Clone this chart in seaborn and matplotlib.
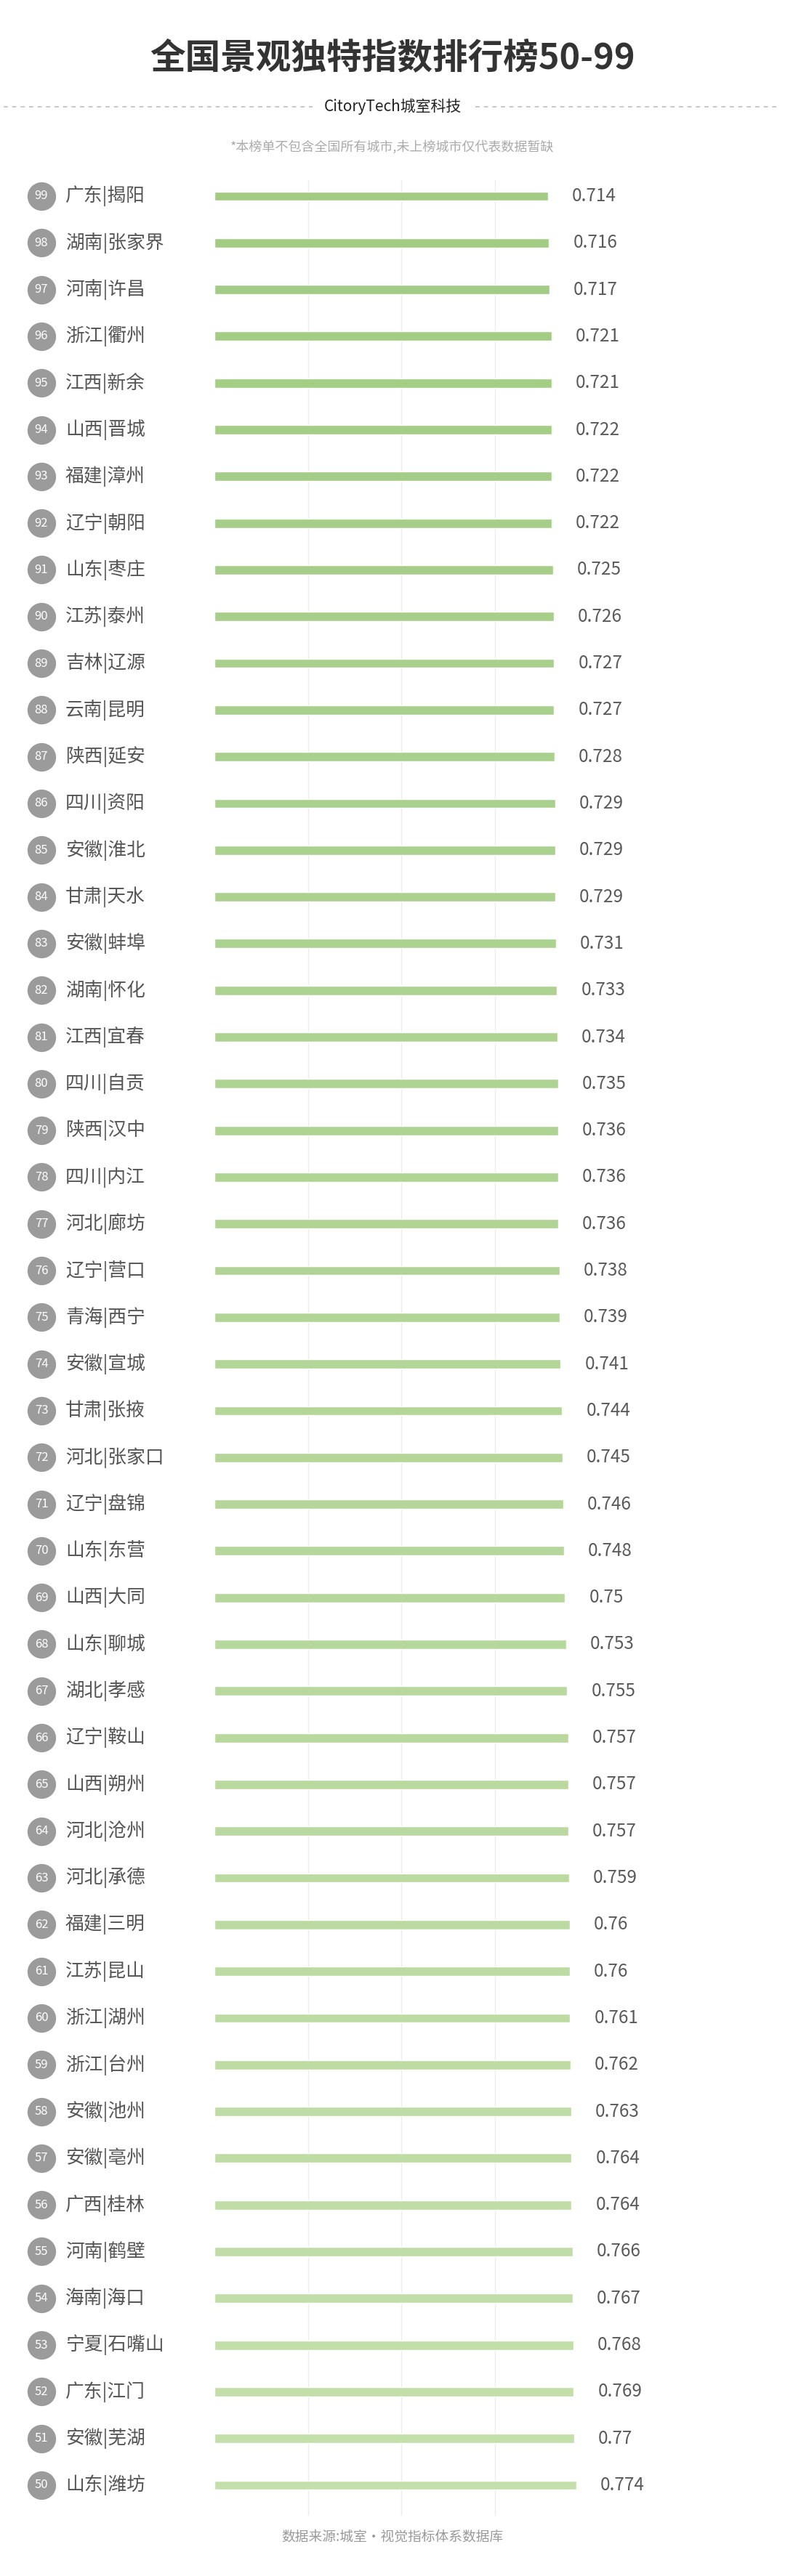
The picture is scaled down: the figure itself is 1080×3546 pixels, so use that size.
import numpy as np
import pandas as pd
import matplotlib
matplotlib.use('Agg')
import matplotlib.pyplot as plt
from matplotlib.lines import Line2D
import seaborn as sns

# ── Data ───────────────────────────────────────────────────────────────────────
ranks = list(range(99, 49, -1))
cities = ['广东|揭阳', '湖南|张家界', '河南|许昌', '浙江|衢州', '江西|新余',
          '山西|晋城', '福建|漳州', '辽宁|朝阳', '山东|枣庄', '江苏|泰州',
          '吉林|辽源', '云南|昆明', '陕西|延安', '四川|资阳', '安徽|淮北',
          '甘肃|天水', '安徽|蚌埠', '湖南|怀化', '江西|宜春', '四川|自贡',
          '陕西|汉中', '四川|内江', '河北|廊坊', '辽宁|营口', '青海|西宁',
          '安徽|宣城', '甘肃|张掖', '河北|张家口', '辽宁|盘锦', '山东|东营',
          '山西|大同', '山东|聊城', '湖北|孝感', '辽宁|鞍山', '山西|朔州',
          '河北|沧州', '河北|承德', '福建|三明', '江苏|昆山', '浙江|湖州',
          '浙江|台州', '安徽|池州', '安徽|亳州', '广西|桂林', '河南|鹤壁',
          '海南|海口', '宁夏|石嘴山', '广东|江门', '安徽|芜湖', '山东|潍坊']
scores = [0.714, 0.716, 0.717, 0.721, 0.721, 0.722, 0.722, 0.722, 0.725, 0.726,
          0.727, 0.727, 0.728, 0.729, 0.729, 0.729, 0.731, 0.733, 0.734, 0.735,
          0.736, 0.736, 0.736, 0.738, 0.739, 0.741, 0.744, 0.745, 0.746, 0.748,
          0.75, 0.753, 0.755, 0.757, 0.757, 0.757, 0.759, 0.76, 0.76, 0.761,
          0.762, 0.763, 0.764, 0.764, 0.766, 0.767, 0.768, 0.769, 0.77, 0.774]
grid_ticks = [0.2, 0.4, 0.6]

title = '全国景观独特指数排行榜50-99'
logo = 'CitoryTech城室科技'
note = '*本榜单不包含全国所有城市,未上榜城市仅代表数据暂缺'
source = '数据来源:城室·视觉指标体系数据库'

df = pd.DataFrame({'rank': ranks, 'city': cities, 'score': scores})

# ── Style ──────────────────────────────────────────────────────────────────────
sns.set_style('white')
plt.rcParams['font.family'] = ['Noto Sans CJK SC', 'DejaVu Sans']

W, H = 1080, 3546
fig = plt.figure(figsize=(W / 100, H / 100), dpi=100)
fig.patch.set_facecolor('white')

ax_left, ax_right = 295, 295 + 643
ax_top, ax_bot = 248, 3463
ax = fig.add_axes([ax_left / W, 1 - ax_bot / H,
                   (ax_right - ax_left) / W, (ax_bot - ax_top) / H])

bar_pal = sns.blend_palette(['#a1cb83', '#c4dfab'], len(df))
sns.barplot(data=df, x='score', y='city', hue='city', palette=bar_pal,
            width=0.2, legend=False, ax=ax, orient='h', saturation=1)

ax.set_xlim(0, 1)
n = len(df)
row_px = (3421 - 270) / (n - 1)
ax.set_ylim(n - 1 + (ax_bot - 3421) / row_px, -(270 - ax_top) / row_px)
ax.set_xticks(grid_ticks)
ax.set_xticklabels([])
ax.set_yticks([])
ax.tick_params(length=0)
ax.set_xlabel(''); ax.set_ylabel('')
ax.grid(axis='x', color='#ececec', lw=1)
ax.set_axisbelow(True)
for s in ax.spines.values():
    s.set_visible(False)

px = 1 / 643  # data units per pixel
for i, row in df.iterrows():
    ax.scatter(-(295 - 57) * px, i, s=800, color='#9b9b9b', clip_on=False,
               zorder=3, linewidths=0)
    ax.text(-(295 - 57) * px, i, str(row['rank']), color='white', fontsize=12,
            ha='center', va='center', clip_on=False, zorder=4)
    ax.text(-(295 - 90) * px, i, row['city'], color='#555555', fontsize=18.5,
            ha='left', va='center', clip_on=False)
    ax.text(row['score'] + 33 * px, i, f"{row['score']:g}", color='#5a5a5a',
            fontsize=17.5, ha='left', va='center', clip_on=False)

# ── Header / footer ────────────────────────────────────────────────────────────
fig.text(0.5, 1 - 80 / H, title, ha='center', va='center', fontsize=35,
         fontweight='bold', color='#333333')
fig.text(0.5, 1 - 147 / H, logo, ha='center', va='center', fontsize=15,
         color='#222222', fontweight='medium')
for x0, x1 in [(5, 430), (654, 1072)]:
    fig.add_artist(Line2D([x0 / W, x1 / W], [1 - 147 / H] * 2,
                          transform=fig.transFigure, color='#c8c8c8',
                          lw=1.4, ls=(0, (3, 3))))
fig.text(0.5, 1 - 203 / H, note, ha='center', va='center', fontsize=13,
         color='#aaaaaa')
fig.text(0.5, 1 - 3492 / H, source, ha='center', va='center', fontsize=13.5,
         color='#999999')

plt.savefig('out.png', dpi=100)
plt.close()
